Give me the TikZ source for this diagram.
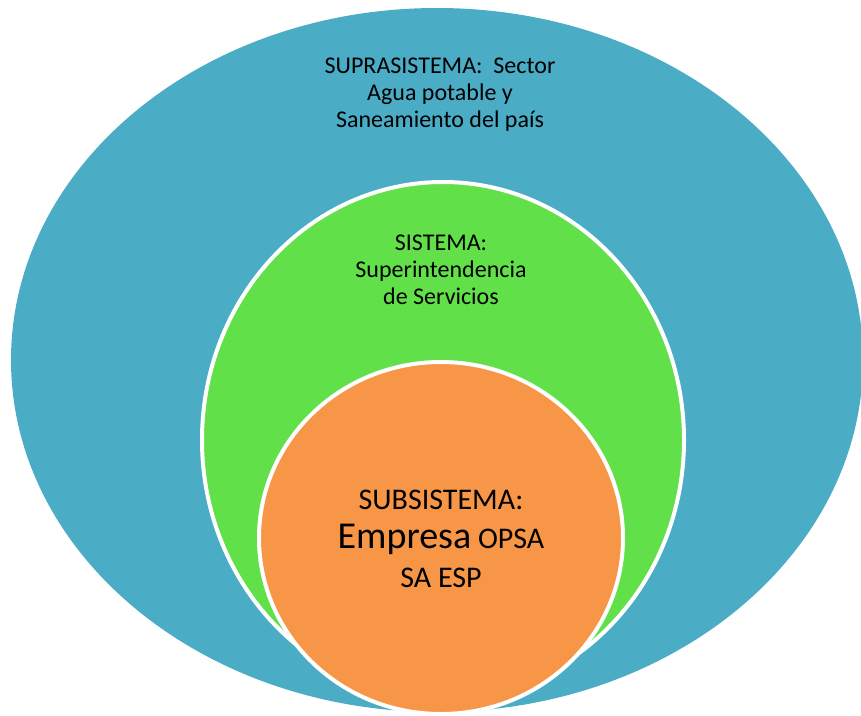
\documentclass[tikz,border=0pt]{standalone}
\usepackage{fontspec}
\setmainfont{Carlito}
\usetikzlibrary{shapes.geometric}

\definecolor{supraBlue}{HTML}{4BACC6}
\definecolor{sistGreen}{HTML}{62E04A}
\definecolor{subOrange}{HTML}{F79646}

\begin{document}
\begin{tikzpicture}[x=1pt,y=-1pt,
    ring/.style={ellipse, draw=white, line width=4pt, inner sep=0pt},
    ring text/.style={align=center, font=\fontsize{24}{27}\selectfont}]

            \useasboundingbox (0,0) rectangle (861,715);
            \clip (0,0) rectangle (861,715);

            % nested sets
            \node[ring, draw=none, fill=supraBlue, minimum width=852pt, minimum height=704pt] (supra) at (437,360) {};
            \node[ring, fill=sistGreen, minimum width=482pt, minimum height=516pt] (sist) at (443,440) {};
            \node[ring, fill=subOrange, minimum width=364pt, minimum height=352pt] (sub) at (441,538) {};

            % labels
            \node[ring text] (supra label) at (440,95) {SUPRASISTEMA:~ Sector\\Agua potable y\\Saneamiento del país};
            \node[ring text] (sist label) at (441,270) {SISTEMA:\\Superintendencia\\de Servicios};
            \node[ring text, font=\fontsize{30}{39}\selectfont] (sub label) at (441,539) {SUBSISTEMA:\\{\fontsize{38}{39}\selectfont Empresa} OPSA\\SA ESP};

        \end{tikzpicture}
\end{document}
